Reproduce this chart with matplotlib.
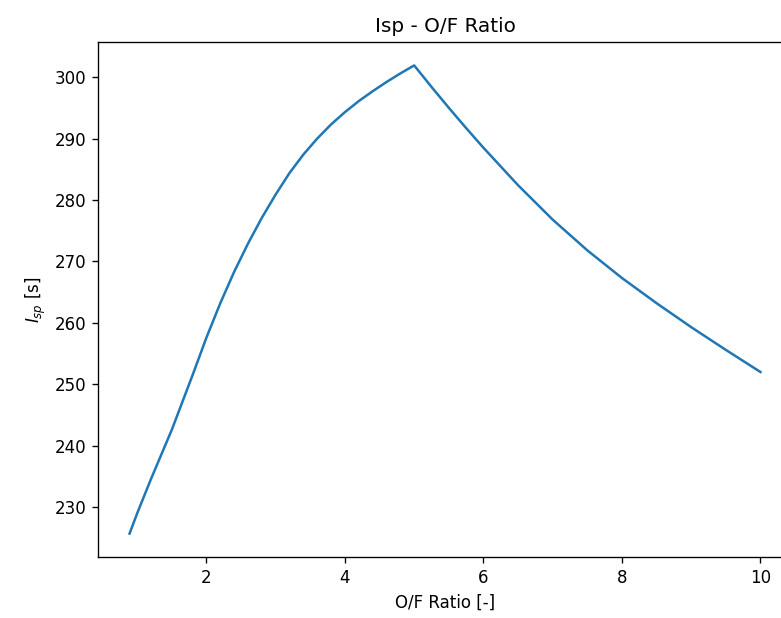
import matplotlib
matplotlib.use('Agg')
import matplotlib.pyplot as plt

# O/F ratio sweep and resulting specific impulse
of_ratio = [0.89, 1.0, 1.2, 1.5, 1.8, 2.0, 2.2, 2.4, 2.6, 2.8, 3.0, 3.2, 3.4, 3.6, 3.8,
            4.0, 4.2, 4.4, 4.6, 4.8, 5.0, 5.25, 5.5, 5.75, 6.0, 6.5, 7.0, 7.5, 8.0,
            8.5, 9.0, 9.5, 10.0]
isp = [225.7, 229.0, 234.6, 242.6, 251.5, 257.6, 263.2, 268.3, 272.9, 277.1, 280.9, 284.4,
       287.4, 290.0, 292.3, 294.3, 296.1, 297.7, 299.2, 300.6, 301.9, 298.4, 295.0, 291.7,
       288.5, 282.4, 276.8, 271.8, 267.3, 263.2, 259.3, 255.6, 252.0]

fig = plt.figure(figsize=(781 / 120, 618 / 120), dpi=120)
# the original picture is cropped on the right, so the axes run past the figure edge
ax = fig.add_axes([0.1255, 0.0987, 0.8886, 0.8333])
ax.plot(of_ratio, isp)
ax.set_title('Isp - O/F Ratio')
ax.set_xlabel('O/F Ratio [-]')
ax.set_ylabel(r'$I_{sp}$ [s]')

fig.savefig('out.png', dpi=120)
